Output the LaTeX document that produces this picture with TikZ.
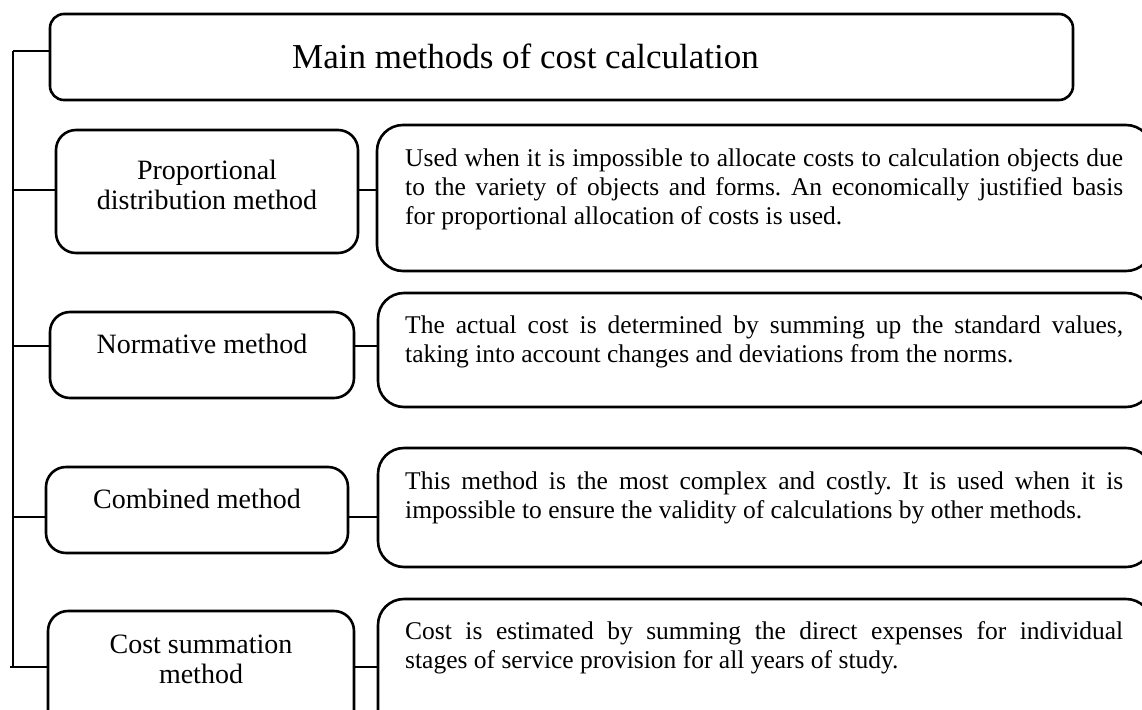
\documentclass[tikz,border=0pt]{standalone}
\usepackage{fontspec}
\setmainfont{Liberation Serif}
\usetikzlibrary{fit}
\frenchspacing
\tikzset{
  frame/.style={draw=black, line width=2.6pt, inner sep=0pt},
  tbox/.style={frame, rounded corners=14pt},
  lbox/.style={frame, rounded corners=20pt},
  rbox/.style={frame, rounded corners=26pt},
  conn/.style={draw=black, line width=1.3pt},
  ttl/.style={inner sep=0pt, anchor=base west, font=\fontsize{35}{40}\selectfont},
  ltxt/.style={inner sep=0pt, anchor=north, align=center, font=\fontsize{28}{30}\selectfont},
  rtxt/.style={inner sep=0pt, anchor=north west, text width=718pt, align=justify, font=\fontsize{25.5}{29}\selectfont\frenchspacing},
}
\begin{document}
\begin{tikzpicture}[x=1pt, y=-1pt]
\clip (0,0) rectangle (1142,709);
\useasboundingbox (0,0) rectangle (1142,709);
% boxes
\node (top) [tbox, fit={(50,14) (1073,100)}] {};
\node (propL) [lbox, fit={(56,130) (358,253)}] {};
\node (propR) [rbox, fit={(377,125) (1152,271)}] {};
\node (normL) [lbox, fit={(50,312) (354,398)}] {};
\node (normR) [rbox, fit={(378,293) (1152,407)}] {};
\node (combL) [lbox, fit={(46,467) (348,553)}] {};
\node (combR) [rbox, fit={(378,448) (1152,567)}] {};
\node (costL) [lbox, fit={(48,611) (354,740)}] {};
\node (costR) [rbox, fit={(378,599) (1152,740)}] {};
% texts
\node (ttlT) [ttl] at (292,69) {Main methods of cost calculation};
\node (propLT) [ltxt] at (207,158) {\strut Proportional\\distribution method};
\node (normLT) [ltxt] at (202,332) {\strut Normative method};
\node (combLT) [ltxt] at (197,487) {\strut Combined method};
\node (costLT) [ltxt] at (201,632) {\strut Cost summation\\method};
\node (propRT) [rtxt] at (405,146) {\strut Used when it is impossible to allocate costs to calculation objects due \linebreak to the variety of objects and forms. An economically justified basis \linebreak for proportional allocation of costs is used.};
\node (normRT) [rtxt] at (405,313) {\strut The actual cost is determined by summing up the standard values, \linebreak taking into account changes and deviations from the norms.};
\node (combRT) [rtxt] at (405,469) {\strut This method is the most complex and costly. It is used when it is \linebreak impossible to ensure the validity of calculations by other methods.};
\node (costRT) [rtxt] at (405,619) {\strut Cost is estimated by summing the direct expenses for individual \linebreak stages of service provision for all years of study.};
% spine
\coordinate (s0) at (13,51);
\coordinate (s1) at (13,190);
\coordinate (s2) at (13,346);
\coordinate (s3) at (13,517);
\coordinate (s4) at (13,667);
\coordinate (s4e) at (10,667);
\draw[conn] (s0) -- (s4);
\draw[conn] (s0) -- (top.west |- s0);
\draw[conn] (s1) -- (propL.west |- s1);
\draw[conn] (s2) -- (normL.west |- s2);
\draw[conn] (s3) -- (combL.west |- s3);
\draw[conn] (s4e) -- (costL.west |- s4);
% links to descriptions
\draw[conn] (propL.east |- s1) -- (propR.west |- s1);
\draw[conn] (normL.east |- s2) -- (normR.west |- s2);
\draw[conn] (combL.east |- s3) -- (combR.west |- s3);
\draw[conn] (costL.east |- s4) -- (costR.west |- s4);
\end{tikzpicture}
\end{document}
